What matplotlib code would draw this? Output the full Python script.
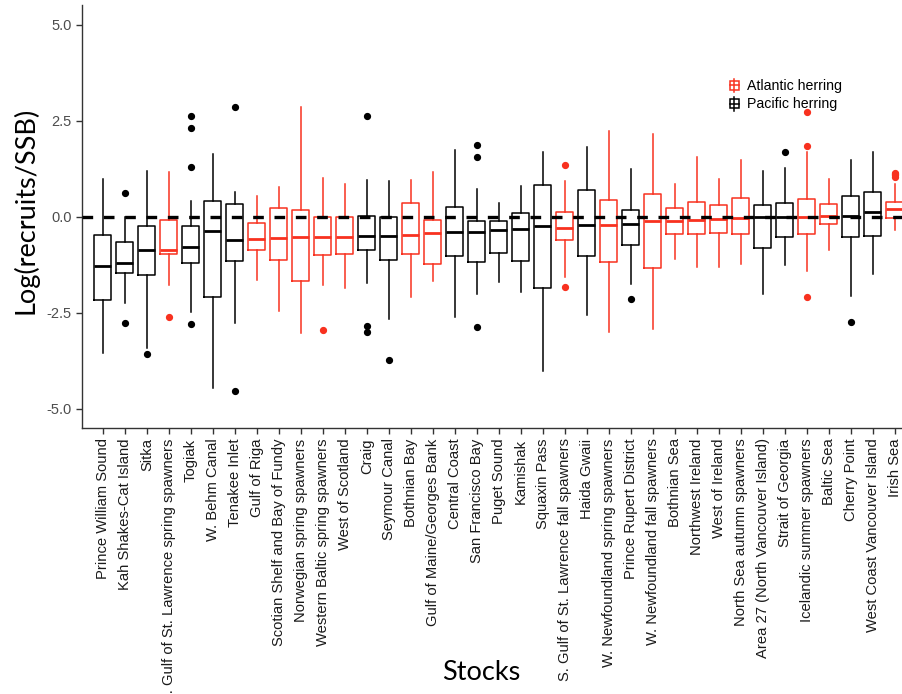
import matplotlib
matplotlib.use("Agg")
import matplotlib.pyplot as plt
from matplotlib.legend_handler import HandlerBase
from matplotlib.lines import Line2D
from matplotlib.patches import Rectangle

# stock names, left to right
stocks = ["Prince William Sound", "Kah Shakes-Cat Island", "Sitka",
          "S. Gulf of St. Lawrence spring spawners", "Togiak", "W. Behm Canal",
          "Tenakee Inlet", "Gulf of Riga", "Scotian Shelf and Bay of Fundy",
          "Norwegian spring spawners", "Western Baltic spring spawners",
          "West of Scotland", "Craig", "Seymour Canal", "Bothnian Bay",
          "Gulf of Maine/Georges Bank", "Central Coast", "San Francisco Bay",
          "Puget Sound", "Kamishak", "Squaxin Pass",
          "S. Gulf of St. Lawrence fall spawners", "Haida Gwaii",
          "W. Newfoundland spring spawners", "Prince Rupert District",
          "W. Newfoundland fall spawners", "Bothnian Sea", "Northwest Ireland",
          "West of Ireland", "North Sea autumn spawners",
          "Area 27 (North Vancouver Island)", "Strait of Georgia",
          "Icelandic summer spawners", "Baltic Sea", "Cherry Point",
          "West Coast Vancouver Island", "Irish Sea"]

# A = Atlantic herring, P = Pacific herring
species = ["P", "P", "P", "A", "P", "P", "P", "A", "A", "A", "A", "A", "P", "P",
           "A", "A", "P", "P", "P", "P", "P", "A", "P", "A", "P", "A", "A", "A",
           "A", "A", "P", "P", "A", "A", "P", "P", "A"]

whislo = [-3.54, -2.24, -3.42, -1.78, -2.47, -4.47, -2.77, -1.65, -2.46, -3.03,
          -1.78, -1.86, -1.73, -2.65, -2.10, -1.68, -2.60, -2.02, -1.69, -1.96,
          -4.02, -1.56, -2.56, -2.99, -1.76, -2.91, -1.11, -1.30, -1.30, -1.24,
          -2.02, -1.26, -1.40, -0.86, -2.07, -1.48, -0.34]
q1 = [-2.16, -1.46, -1.52, -0.98, -1.20, -2.08, -1.14, -0.85, -1.12, -1.66,
      -0.99, -0.98, -0.85, -1.12, -0.98, -1.23, -1.03, -1.18, -0.93, -1.14,
      -1.85, -0.60, -1.02, -1.17, -0.74, -1.32, -0.45, -0.44, -0.41, -0.45,
      -0.80, -0.52, -0.44, -0.18, -0.53, -0.50, -0.02]
med = [-1.28, -1.20, -0.87, -0.85, -0.78, -0.36, -0.59, -0.57, -0.55, -0.52,
       -0.52, -0.52, -0.50, -0.50, -0.47, -0.41, -0.40, -0.40, -0.35, -0.32,
       -0.23, -0.28, -0.21, -0.21, -0.18, -0.12, -0.11, -0.08, -0.06, -0.02,
       0.00, 0.00, 0.00, 0.01, 0.01, 0.14, 0.21]
q3 = [-0.48, -0.66, -0.24, -0.08, -0.25, 0.41, 0.33, -0.15, 0.22, 0.17,
      0.00, 0.00, 0.02, 0.00, 0.36, -0.08, 0.26, -0.12, -0.11, 0.10,
      0.84, 0.14, 0.70, 0.43, 0.17, 0.60, 0.24, 0.40, 0.30, 0.49,
      0.31, 0.35, 0.46, 0.34, 0.55, 0.66, 0.38]
whishi = [0.98, 0.00, 1.19, 1.17, 0.41, 1.65, 0.66, 0.54, 0.79, 2.87,
          1.00, 0.85, 0.96, 0.93, 0.95, 1.18, 1.75, 0.73, 0.36, 0.81,
          1.69, 0.94, 1.82, 2.24, 1.25, 2.17, 0.85, 1.56, 0.99, 1.49,
          1.20, 1.27, 1.70, 0.99, 1.47, 1.70, 0.85]
fliers = [[], [0.63, -2.77], [-3.58], [-2.61], [2.63, 2.32, 1.29, -2.78], [],
          [2.87, -4.54], [], [], [], [-2.96], [], [2.63, -2.85, -3.00],
          [-3.74], [], [], [], [1.86, 1.56, -2.86], [], [], [],
          [1.34, -1.83], [], [], [-2.14], [], [], [], [], [], [], [1.70],
          [2.74, 1.85, -2.10], [], [-2.73], [], [1.05, 1.08, 1.12, 1.15]]

RED = "#f8311f"
BLACK = "black"
colours = {"A": RED, "P": BLACK}


class BoxGlyph(HandlerBase):
    # small boxplot symbol for the legend keys
    def create_artists(self, legend, orig_handle, xdescent, ydescent,
                       width, height, fontsize, trans):
        c = orig_handle.get_color()
        cx = width / 2 - xdescent
        w = height * 0.95
        y0 = -ydescent
        box = Rectangle((cx - w / 2, y0 + height * 0.0), w, height * 0.9,
                        fill=False, edgecolor=c, lw=1.1, transform=trans)
        mid = Line2D([cx - w / 2, cx + w / 2], [y0 + height * 0.45] * 2,
                     color=c, lw=1.1, transform=trans)
        wh = Line2D([cx, cx], [y0 - height * 0.25, y0 + height * 1.15],
                    color=c, lw=1.1, transform=trans)
        return [wh, box, mid]


plt.rcParams["font.family"] = ["Liberation Sans", "DejaVu Sans"]

fig = plt.figure(figsize=(9.02, 6.94), dpi=100)
ax = fig.add_axes([0.0909, 0.3833, 0.9091, 0.6095])

for i in range(len(stocks)):
    col = colours[species[i]]
    st = {"whislo": whislo[i], "q1": q1[i], "med": med[i], "q3": q3[i],
          "whishi": whishi[i], "fliers": fliers[i], "label": stocks[i]}
    ax.bxp([st], positions=[i + 1], widths=0.77, showcaps=False,
           boxprops=dict(color=col, lw=1.1),
           whiskerprops=dict(color=col, lw=1.1),
           medianprops=dict(color=col, lw=2.0),
           flierprops=dict(marker="o", markersize=4.2, markerfacecolor=col,
                           markeredgecolor=col))

ax.axhline(0, color="black", lw=2.4, ls=(0, (3.2, 3.2)), zorder=5)

ax.set_xlim(0.05, 37.32)
ax.set_ylim(-5.5, 5.52)
ax.set_xticks(range(1, len(stocks) + 1))
ax.set_xticklabels(stocks, rotation=90, fontsize=10.6, color="#1a1a1a")
ax.set_yticks([-5, -2.5, 0, 2.5, 5])
ax.set_yticklabels(["-5.0", "-2.5", "0.0", "2.5", "5.0"], fontsize=10.5,
                   color="#4d4d4d")
ax.tick_params(axis="both", direction="out", length=4, width=1, color="#333333")
for side in ["top", "right"]:
    ax.spines[side].set_visible(False)
for side in ["left", "bottom"]:
    ax.spines[side].set_linewidth(1.0)
    ax.spines[side].set_color("#333333")

# axis titles placed in figure coordinates
fig.text(481 / 902, 1 - 673 / 694, "Stocks", ha="center", va="center",
         fontsize=19.5, family=["Lato", "DejaVu Sans"])
fig.text(25 / 902, 1 - 210 / 694, "Log(recruits/SSB)", ha="center", va="center",
         rotation=90, fontsize=19.5, family=["Lato", "DejaVu Sans"])

handles = [Line2D([], [], color=RED), Line2D([], [], color=BLACK)]
ax.legend(handles, ["Atlantic herring", "Pacific herring"], loc="upper left",
          bbox_to_anchor=(718 / 902, 1 - 69 / 694), bbox_transform=fig.transFigure,
          frameon=False, fontsize=10.2, handler_map={Line2D: BoxGlyph()},
          handlelength=0.9, handletextpad=0.45, labelspacing=0.3, borderpad=0.2)

fig.savefig("out.png", dpi=100)
